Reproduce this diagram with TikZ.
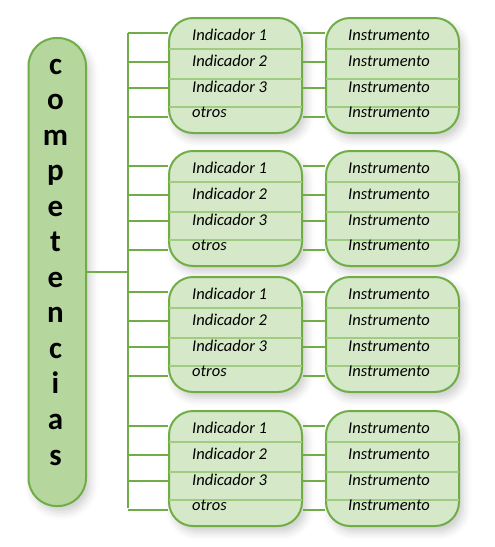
\documentclass[tikz,border=0pt]{standalone}
\usepackage{fontspec}
\setmainfont{Carlito}
\usetikzlibrary{shadows.blur}
\definecolor{gline}{HTML}{70AD47}
\definecolor{gfill}{HTML}{D5E8C8}
\definecolor{gdark}{HTML}{B5D79E}
\definecolor{grow}{HTML}{9FCC80}
\tikzset{
  conn/.style={draw=gline, line width=2pt},
  softshadow/.style={blur shadow={shadow xshift=4pt, shadow yshift=-6pt, shadow blur radius=8pt, shadow opacity=20}},
  panel/.style={draw=gline, line width=2pt, fill=gfill, rounded corners=24pt,
    minimum width=133pt, minimum height=115pt, inner sep=0pt, softshadow},
  leftbox/.style={draw=gline, line width=2pt, fill=gdark, rounded corners=28pt,
    minimum width=57.5pt, minimum height=468pt, inner sep=0pt, softshadow},
  rowline/.style={draw=grow, line width=1.2pt},
  letter/.style={font=\bfseries\fontsize{31}{31}\selectfont, inner sep=0pt},
  itxt/.style={font=\itshape\fontsize{16.5}{16.5}\selectfont, inner sep=0pt, anchor=base west}
}
\begin{document}
\begin{tikzpicture}[x=1pt,y=-1pt]
\useasboundingbox (0,0) rectangle (495,547);
% left box
\node[leftbox] (comp) at (57.25,272) {};
\foreach \ch [count=\k from 0] in {c,o,m,p,e,t,e,n,c,i,a,s}
  \node[letter, anchor=base] (l\k) at (55.5,74+35.55*\k) {\ch};
% trunk
\coordinate (ttop) at (128,33);
\coordinate (tbot) at (128,508);
\draw[conn] (ttop) -- (tbot);
\draw[conn] (comp.east) -- (comp.east -| ttop);
% blocks
\foreach \b/\t in {1/18,2/151,3/277,4/411} {
  \foreach \r/\o in {1/15,2/44,3/70,4/99}
    \coordinate (t\b\r) at (128,\t+\o);
  \node[panel] (ind\b) at (235.5,\t+57.5) {};
  \node[panel] (ins\b) at (392.5,\t+57.5) {};
  \foreach \r/\o in {1/31,2/61,3/89} {
    \draw[rowline] (169,\t+\o) -- (302,\t+\o);
    \draw[rowline] (326,\t+\o) -- (459,\t+\o);
  }
  \foreach \r/\o/\txt in {1/22.5/Indicador 1,2/48.5/Indicador 2,3/74.5/Indicador 3,4/99.5/otros} {
    \node[itxt] (i\b\r) at (192,\t+\o) {\txt};
    \node[itxt] (s\b\r) at (348,\t+\o) {Instrumento};
    \draw[conn] (t\b\r) -- (t\b\r -| ind\b.west);
    \draw[conn] (t\b\r -| ind\b.east) -- (t\b\r -| ins\b.west);
  }
}
\end{tikzpicture}
\end{document}
